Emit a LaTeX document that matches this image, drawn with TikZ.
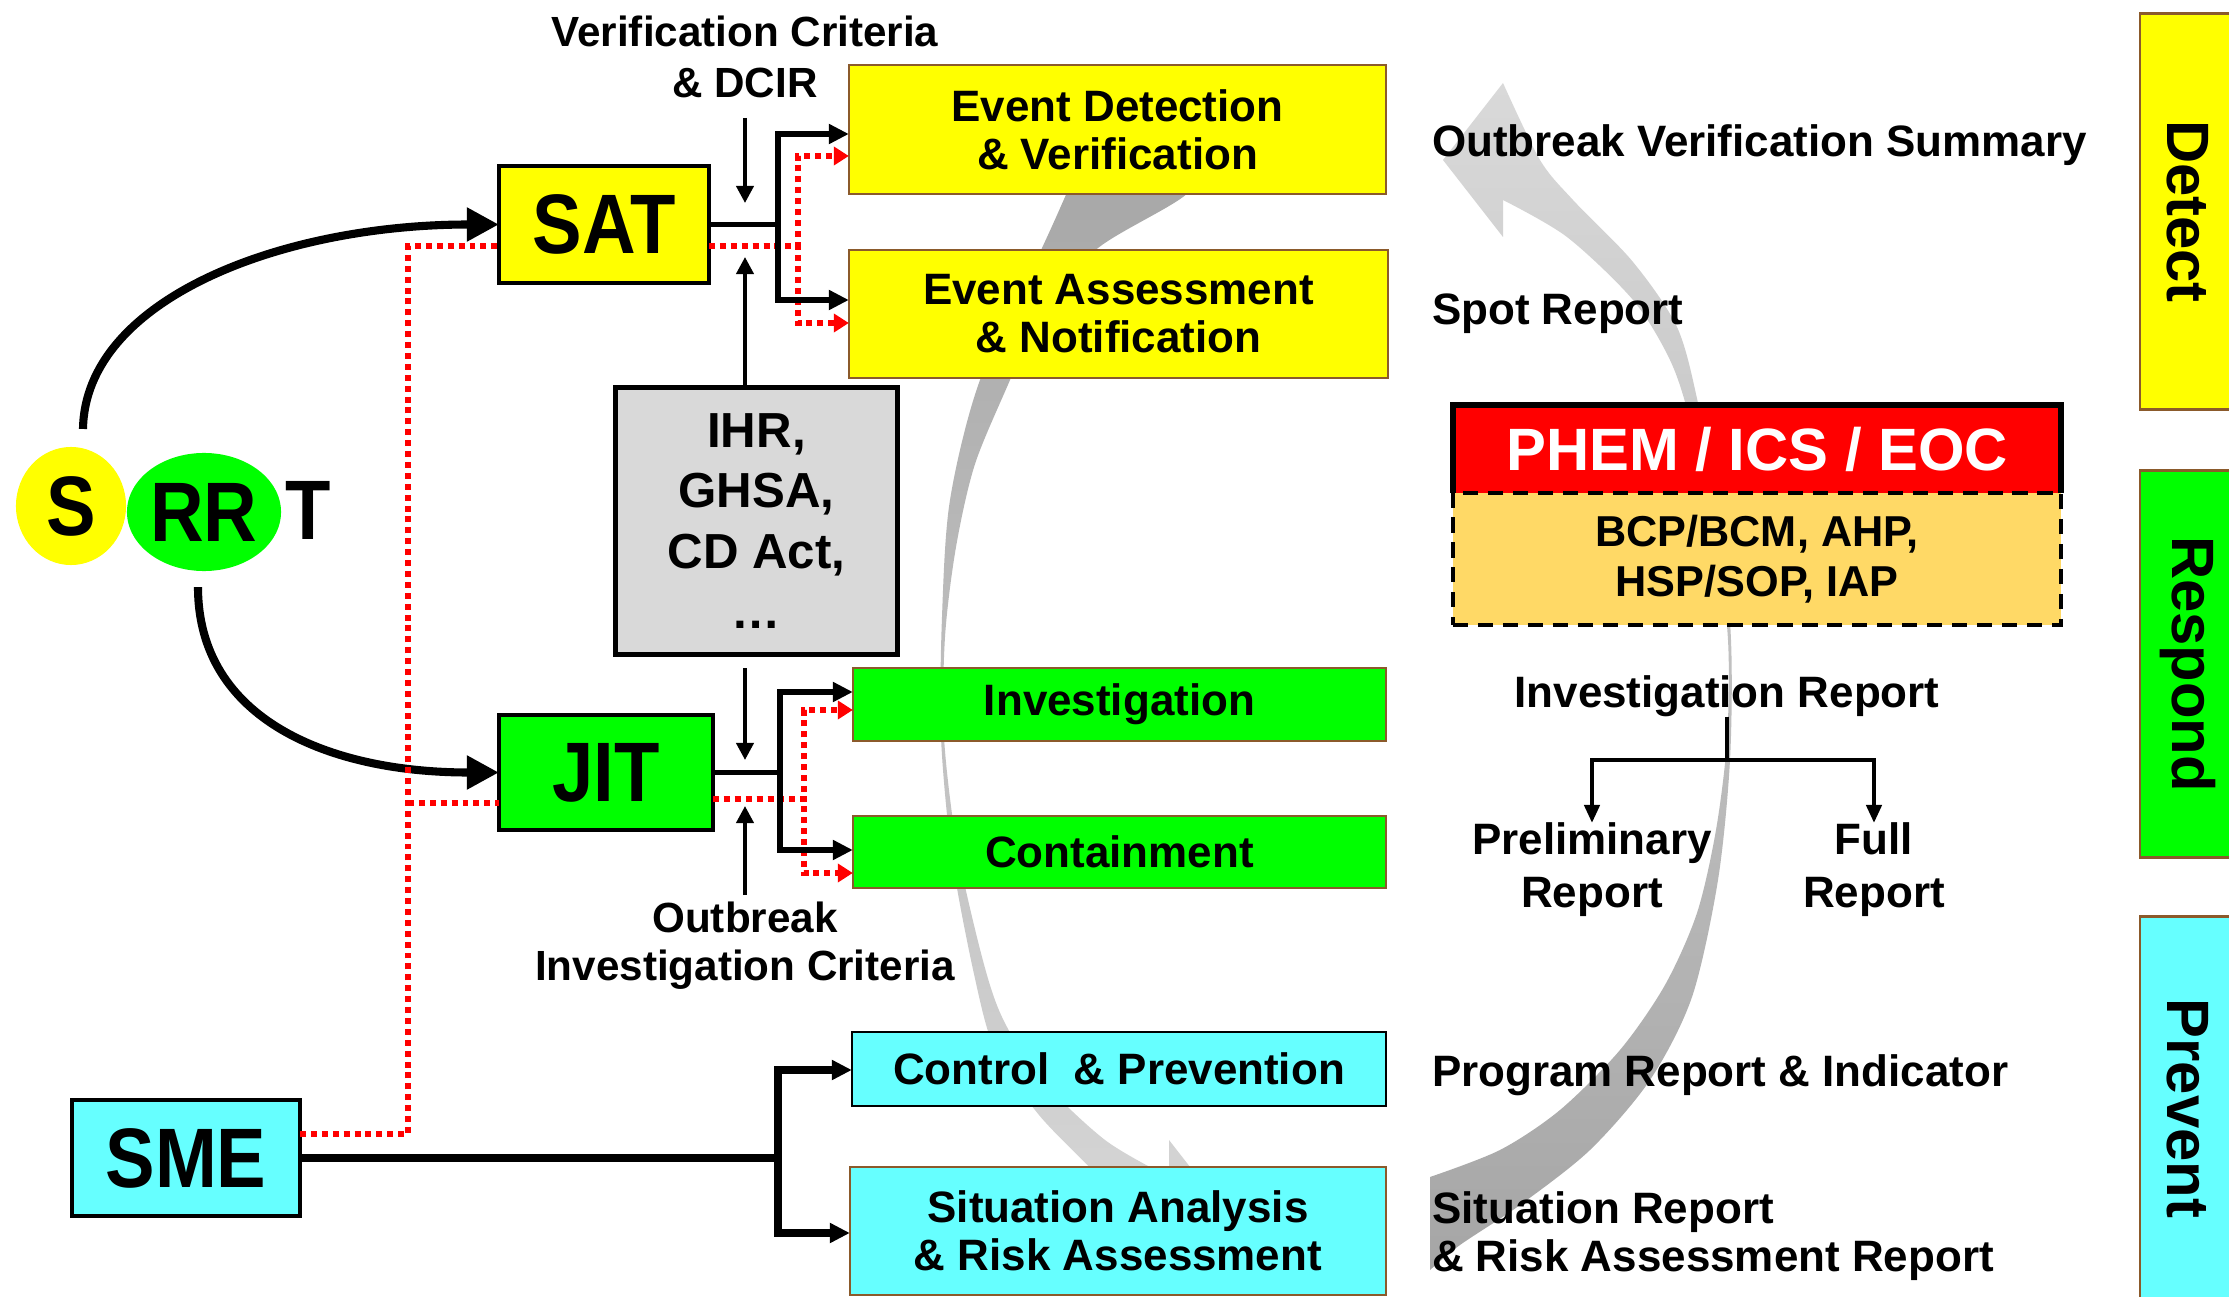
\documentclass[tikz,border=0pt]{standalone}
\usepackage{fontspec}
\setmainfont{Liberation Sans}
\newfontfamily\condf{Liberation Sans}[FakeStretch=0.88]
\usetikzlibrary{arrows.meta,calc,shapes.geometric}
\definecolor{yel}{HTML}{FFFF00}
\definecolor{grn}{HTML}{00FF00}
\definecolor{cyn}{HTML}{66FFFF}
\definecolor{lgray}{HTML}{D9D9D9}
\definecolor{brd}{HTML}{8B5A2B}
\definecolor{orng}{HTML}{FFD966}
\definecolor{bandlight}{HTML}{D9D9D9}
\definecolor{banddark}{HTML}{A6A6A6}
\begin{document}
\begin{tikzpicture}[x=0.01cm, y=-0.01cm,
  every node/.style={inner sep=0pt, outer sep=0pt},
  txt/.style={font=\bfseries\fontsize{12.5}{13.7}\selectfont, align=center},
  box/.style={txt, draw=brd, line width=0.7pt, rectangle},
  big/.style={font=\condf\bfseries\fontsize{24}{24}\selectfont},
  bigbox/.style={big, draw=black, line width=1pt, rectangle},
  bar/.style={draw=brd, line width=0.8pt, rectangle, rotate=-90, minimum height=0.95cm, font=\bfseries\fontsize{17}{17}\selectfont},
  lbl/.style={font=\bfseries\fontsize{12.5}{13.7}\selectfont, align=center},
  blk/.style={line width=1.6pt, -{Triangle[length=0.2cm,width=0.19cm]}},
  rdd/.style={red, line width=1.7pt, dash pattern=on 1.7pt off 1.4pt},
  rda/.style={rdd, -{Triangle[length=0.15cm,width=0.18cm]}},
  tn/.style={line width=1.1pt, -{Triangle[length=0.17cm,width=0.17cm]}},
  arcs/.style={line width=2.3pt, -{Triangle[length=0.32cm,width=0.32cm]}},
  irl/.style={line width=1.2pt, -{Triangle[length=0.18cm,width=0.15cm]}},
]
\useasboundingbox (0,0) rectangle (2229,1297);
\fill[white] (0,0) rectangle (2229,1297);

% gray cycle bands
\path[top color=bandlight, bottom color=banddark]
  plot[smooth] coordinates {(1503,83) (1540,160) (1573,200) (1633,262) (1677,327) (1698,403) (1720,520) (1731,640) (1730,760) (1718,880) (1692,997) (1650,1080) (1590,1150) (1520,1205) (1460,1245) (1430,1270)}
  -- plot[smooth] coordinates {(1430,1177) (1500,1150) (1560,1110) (1620,1050) (1665,985) (1697,913) (1716,830) (1727,740) (1728,640) (1715,530) (1690,420) (1670,360) (1633,300) (1567,237) (1503,200)}
  -- (1503,237) -- (1443,160) -- cycle;
\path[top color=banddark, bottom color=bandlight]
  plot[smooth] coordinates {(1169,1294) (1132,1217) (1099,1177) (1039,1115) (995,1050) (974,974) (952,857) (941,737) (942,617) (950,500) (980,380) (1042,248) (1065,197) (1090,140)}
  -- (1230,140)
  -- plot[smooth] coordinates {(1230,150) (1183,197) (1098,248) (1040,310) (1010,380) (975,464) (956,547) (945,637) (944,737) (957,847) (982,957) (1002,1017) (1039,1077) (1105,1140) (1169,1177)}
  -- (1169,1140) -- (1229,1217) -- cycle;

% side bars
\node[bar, fill=yel, minimum width=3.95cm] (Det) at (2187.5,211.5) {Detect};
\node[bar, fill=grn, minimum width=3.86cm] (Res) at (2187.5,664) {Respond};
\node[bar, fill=cyn, minimum width=3.83cm] (Pre) at (2187.5,1108.5) {Prevent};

% SRRT
\node[ellipse, fill=yel, minimum width=1.10cm, minimum height=1.18cm, big] (S) at (71,506) {S};
\node[ellipse, fill=grn, minimum width=1.54cm, minimum height=1.18cm, big] (RR) at (204,512) {RR};
\node[big] (T) at (308,510) {T};

% team boxes
\node[bigbox, fill=yel, minimum width=2.10cm, minimum height=1.17cm] (SAT) at (604,224.5) {SAT};
\node[bigbox, fill=grn, minimum width=2.14cm, minimum height=1.15cm] (JIT) at (606,772.5) {JIT};
\node[bigbox, fill=cyn, minimum width=2.28cm, minimum height=1.16cm] (SME) at (186,1158) {SME};

% function boxes
\node[box, fill=yel, minimum width=5.37cm, minimum height=1.29cm] (EDV) at (1117.5,129.5) {Event Detection\\\& Verification};
\node[box, fill=yel, minimum width=5.39cm, minimum height=1.28cm] (EAN) at (1118.5,314) {Event Assessment\\\& Notification};
\node[box, fill=grn, minimum width=5.33cm, minimum height=0.73cm] (Inv) at (1119.5,704.5) {Investigation};
\node[box, fill=grn, minimum width=5.33cm, minimum height=0.72cm] (Cont) at (1119.5,852) {Containment};
\node[box, draw=black, fill=cyn, minimum width=5.34cm, minimum height=0.74cm] (Ctrl) at (1119,1069) {Control\ \ \& Prevention};
\node[box, fill=cyn, minimum width=5.36cm, minimum height=1.28cm] (Sit) at (1118,1231) {Situation Analysis\\\& Risk Assessment};

% legal framework box
\node[draw=black, line width=1.4pt, fill=lgray, minimum width=2.81cm, minimum height=2.66cm, align=center, font=\bfseries\fontsize{14}{17.1}\selectfont] (IHR) at (756.5,521) {IHR,\\GHSA,\\CD Act,\\…};

% PHEM / plans
\node[fill=red, minimum width=6.08cm, minimum height=0.88cm, text=white, font=\bfseries\fontsize{17}{17}\selectfont] (PHEM) at (1757,449) {PHEM / ICS / EOC};
\draw[line width=1.7pt] (PHEM.south west) -- (PHEM.north west) -- (PHEM.north east) -- (PHEM.south east);
\node[draw=black, line width=1.3pt, dash pattern=on 4.3pt off 2.8pt, fill=orng, minimum width=6.08cm, minimum height=1.32cm, align=center, font=\bfseries\fontsize{12.3}{14.2}\selectfont] (BCP) at (1757,559) {BCP/BCM, AHP,\\HSP/SOP, IAP};

% labels
\node[lbl, font=\bfseries\fontsize{12}{14.5}\selectfont] (VC) at (745,57) {Verification Criteria\\\& DCIR};
\node[lbl, font=\bfseries\fontsize{12}{13.7}\selectfont] (OIC) at (745,946) {Outbreak\\Investigation Criteria};
\node[lbl, anchor=west] (OVS) at (1432,145) {Outbreak Verification Summary};
\node[lbl, anchor=west] (Spot) at (1432,314) {Spot Report};
\node[lbl] (IR) at (1727,696) {Investigation Report};
\node[lbl, anchor=north, font=\bfseries\fontsize{12.5}{15}\selectfont] (Prelim) at (1592,823) {Preliminary\\Report};
\node[lbl, anchor=north, font=\bfseries\fontsize{12.5}{15}\selectfont] (Full) at (1874,823) {Full\\Report};
\node[lbl, anchor=west] (PRI) at (1432,1075) {Program Report \& Indicator};
\node[lbl, anchor=west, align=left] (SRep) at (1432,1236) {Situation Report\\\& Risk Assessment Report};

% SRRT arcs
\draw[arcs] ($(S.north)+(12,-18)$) .. controls (85,300) and (280,224.5) .. (SAT.west);
\draw[arcs] ($(RR.south)+(-6,16)$) .. controls (198,720) and (330,772.5) .. (JIT.west);

% red dotted links
\draw[rdd] (SME.east |- 0,1134) -- (408,1134) -- (408,246) -- (SAT.west |- 0,246);
\draw[rdd] (408,803) -- (JIT.west |- 0,803);
\draw[rda] (SAT.east |- 0,246) -- (798,246) |- (EDV.west |- 0,156);
\draw[rda] (SAT.east |- 0,246) -- (798,246) |- (EAN.west |- 0,323);
\draw[rda] (JIT.east |- 0,799) -- (804,799) |- (Inv.west |- 0,710);
\draw[rda] (JIT.east |- 0,799) -- (804,799) |- (Cont.west |- 0,873);

% black branches
\draw[blk] (SAT.east) -- (778,224.5) |- (EDV.west |- 0,134);
\draw[blk] (SAT.east) -- (778,224.5) |- (EAN.west |- 0,300);
\draw[blk] (JIT.east) -- (780,772.5) |- (Inv.west |- 0,692);
\draw[blk] (JIT.east) -- (780,772.5) |- (Cont.west |- 0,850);
\draw[blk, line width=2pt] (SME.east) -- (778,1158) |- (Ctrl.west |- 0,1070);
\draw[blk, line width=2pt] (SME.east) -- (778,1158) |- (Sit.west |- 0,1233);

% criteria arrows
\coordinate (vt1) at (745,203);
\coordinate (vt2) at (745,257);
\coordinate (vt3) at (745,760);
\coordinate (vt4) at (745,806);
\draw[tn] ($(VC.south)+(0,20)$) -- (vt1);
\draw[tn] (IHR.north -| 745,0) -- (vt2);
\draw[tn] ($(IHR.south -| 745,0)+(0,14)$) -- (vt3);
\draw[tn] ($(OIC.north)+(0,-7)$) -- (vt4);

% investigation report split
\draw[irl] (IR.south) -- (1727,760) -| (Prelim.north);
\draw[irl] (IR.south) -- (1727,760) -| (Full.north);
\end{tikzpicture}
\end{document}
